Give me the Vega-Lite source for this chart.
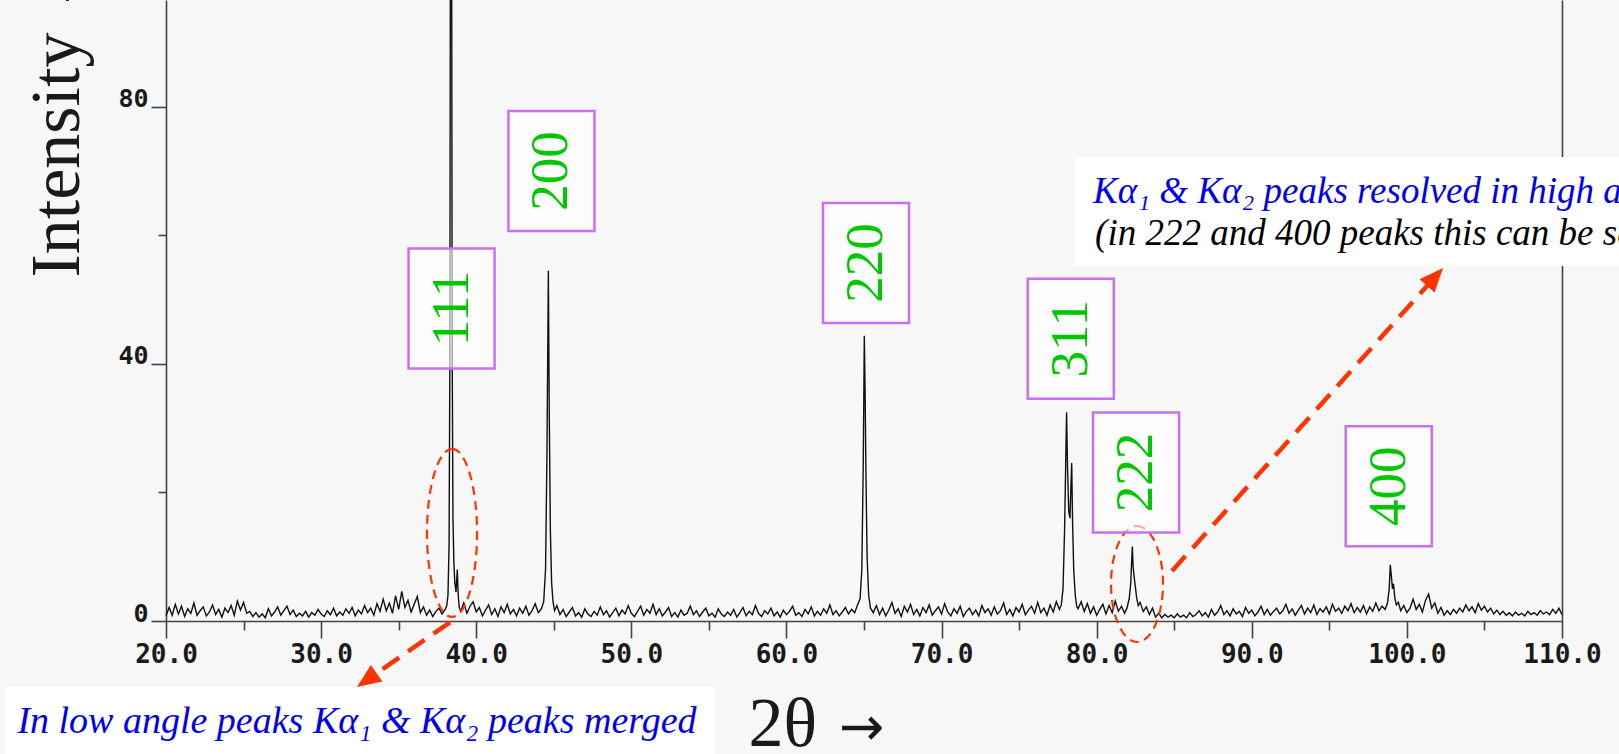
{
"$schema": "https://vega.github.io/schema/vega-lite/v6.json",
"width": 1396, "height": 621,
"autosize": {"type": "none"},
"padding": {"left": 166, "top": 0, "right": 57, "bottom": 133},
"background": "#f7f7f7",
"config": {"view": {"stroke": null}},
"datasets": {
"xrd": [
{"t":20.0,"i":0.8},{"t":20.2,"i":2.1},{"t":20.4,"i":0.9},{"t":20.6,"i":2.6},{"t":20.8,"i":1.1},{"t":21.0,"i":2.3},{"t":21.2,"i":0.7},{"t":21.4,"i":1.9},{"t":21.6,"i":1.2},{"t":21.8,"i":2.8},
{"t":22.0,"i":0.9},{"t":22.2,"i":1.6},{"t":22.4,"i":2.2},{"t":22.6,"i":0.8},{"t":22.8,"i":1.4},{"t":23.0,"i":2.5},{"t":23.2,"i":1.0},{"t":23.4,"i":1.8},{"t":23.6,"i":0.6},{"t":23.8,"i":2.0},
{"t":24.0,"i":1.3},{"t":24.2,"i":2.4},{"t":24.4,"i":0.9},{"t":24.6,"i":3.1},{"t":24.8,"i":1.7},{"t":25.0,"i":2.9},{"t":25.2,"i":1.2},{"t":25.4,"i":1.5},{"t":25.6,"i":0.7},{"t":25.8,"i":1.3},
{"t":26.0,"i":0.6},{"t":26.2,"i":1.1},{"t":26.4,"i":0.5},{"t":26.6,"i":1.9},{"t":26.8,"i":0.8},{"t":27.0,"i":1.4},{"t":27.2,"i":2.2},{"t":27.4,"i":0.9},{"t":27.6,"i":1.6},{"t":27.8,"i":2.3},
{"t":28.0,"i":1.0},{"t":28.2,"i":1.7},{"t":28.4,"i":0.7},{"t":28.6,"i":1.2},{"t":28.8,"i":0.8},{"t":29.0,"i":1.5},{"t":29.2,"i":0.6},{"t":29.4,"i":1.3},{"t":29.6,"i":0.9},{"t":29.8,"i":1.8},
{"t":30.0,"i":1.1},{"t":30.2,"i":0.7},{"t":30.4,"i":1.6},{"t":30.6,"i":1.0},{"t":30.8,"i":2.0},{"t":31.0,"i":0.8},{"t":31.2,"i":1.4},{"t":31.4,"i":0.9},{"t":31.6,"i":1.9},{"t":31.8,"i":1.2},
{"t":32.0,"i":2.1},{"t":32.2,"i":0.8},{"t":32.4,"i":1.7},{"t":32.6,"i":1.1},{"t":32.8,"i":2.4},{"t":33.0,"i":1.3},{"t":33.2,"i":2.0},{"t":33.4,"i":0.9},{"t":33.6,"i":2.7},{"t":33.8,"i":1.5},
{"t":34.0,"i":3.4},{"t":34.2,"i":1.6},{"t":34.4,"i":2.8},{"t":34.6,"i":1.2},{"t":34.8,"i":3.9},{"t":35.0,"i":1.8},{"t":35.2,"i":4.6},{"t":35.4,"i":2.1},{"t":35.6,"i":3.2},{"t":35.8,"i":1.4},
{"t":36.0,"i":2.6},{"t":36.2,"i":3.8},{"t":36.4,"i":1.3},{"t":36.6,"i":2.2},{"t":36.8,"i":0.9},{"t":37.0,"i":1.7},{"t":37.2,"i":0.7},{"t":37.4,"i":1.5},{"t":37.6,"i":2.0},{"t":37.8,"i":1.1},
{"t":38.0,"i":1.8},{"t":38.1,"i":2.4},{"t":38.18,"i":4},{"t":38.25,"i":12},{"t":38.3,"i":40},{"t":38.35,"i":135},{"t":38.4,"i":135},{"t":38.45,"i":42},{"t":38.5,"i":16},{"t":38.56,"i":9},{"t":38.62,"i":6},{"t":38.7,"i":4.5},{"t":38.78,"i":8},{"t":38.84,"i":4},{"t":38.9,"i":2.2},
{"t":39.0,"i":1.5},{"t":39.2,"i":2.8},{"t":39.4,"i":1.2},{"t":39.6,"i":2.3},{"t":39.8,"i":3.0},{"t":40.0,"i":1.4},{"t":40.2,"i":2.1},{"t":40.4,"i":0.8},{"t":40.6,"i":1.7},{"t":40.8,"i":2.5},
{"t":41.0,"i":1.0},{"t":41.2,"i":1.9},{"t":41.4,"i":0.7},{"t":41.6,"i":2.2},{"t":41.8,"i":1.3},{"t":42.0,"i":2.6},{"t":42.2,"i":1.1},{"t":42.4,"i":1.8},{"t":42.6,"i":0.8},{"t":42.8,"i":2.0},
{"t":43.0,"i":1.2},{"t":43.2,"i":2.3},{"t":43.4,"i":0.9},{"t":43.6,"i":1.6},{"t":43.8,"i":2.7},{"t":44.0,"i":1.3},{"t":44.2,"i":1.9},
{"t":44.35,"i":3},{"t":44.47,"i":8},{"t":44.56,"i":26},{"t":44.65,"i":54.5},{"t":44.71,"i":32},{"t":44.78,"i":14},{"t":44.86,"i":6},{"t":44.95,"i":3},{"t":45.05,"i":1.6},
{"t":45.2,"i":2.4},{"t":45.4,"i":1.0},{"t":45.6,"i":1.8},{"t":45.8,"i":0.7},{"t":46.0,"i":1.4},{"t":46.2,"i":2.1},{"t":46.4,"i":0.8},{"t":46.6,"i":1.3},{"t":46.8,"i":0.6},{"t":47.0,"i":1.9},
{"t":47.2,"i":1.1},{"t":47.4,"i":0.7},{"t":47.6,"i":1.5},{"t":47.8,"i":0.9},{"t":48.0,"i":2.2},{"t":48.2,"i":1.0},{"t":48.4,"i":1.6},{"t":48.6,"i":0.6},{"t":48.8,"i":1.3},{"t":49.0,"i":2.0},
{"t":49.2,"i":0.8},{"t":49.4,"i":1.7},{"t":49.6,"i":1.1},{"t":49.8,"i":2.4},{"t":50.0,"i":1.2},{"t":50.2,"i":0.7},{"t":50.4,"i":1.5},{"t":50.6,"i":2.3},{"t":50.8,"i":0.9},{"t":51.0,"i":1.8},
{"t":51.2,"i":1.2},{"t":51.4,"i":2.6},{"t":51.6,"i":1.0},{"t":51.8,"i":1.9},{"t":52.0,"i":0.8},{"t":52.2,"i":1.4},{"t":52.4,"i":2.1},{"t":52.6,"i":0.7},{"t":52.8,"i":1.3},{"t":53.0,"i":0.6},
{"t":53.2,"i":1.7},{"t":53.4,"i":0.9},{"t":53.6,"i":1.2},{"t":53.8,"i":2.3},{"t":54.0,"i":1.0},{"t":54.2,"i":1.6},{"t":54.4,"i":0.7},{"t":54.6,"i":1.4},{"t":54.8,"i":2.0},{"t":55.0,"i":0.8},
{"t":55.2,"i":1.2},{"t":55.4,"i":0.6},{"t":55.6,"i":1.9},{"t":55.8,"i":1.1},{"t":56.0,"i":0.7},{"t":56.2,"i":1.4},{"t":56.4,"i":0.9},{"t":56.6,"i":1.8},{"t":56.8,"i":0.6},{"t":57.0,"i":1.3},
{"t":57.2,"i":2.1},{"t":57.4,"i":0.8},{"t":57.6,"i":1.5},{"t":57.8,"i":1.0},{"t":58.0,"i":2.4},{"t":58.2,"i":1.2},{"t":58.4,"i":0.7},{"t":58.6,"i":1.6},{"t":58.8,"i":1.1},{"t":59.0,"i":2.0},
{"t":59.2,"i":0.8},{"t":59.4,"i":1.4},{"t":59.6,"i":0.6},{"t":59.8,"i":1.7},{"t":60.0,"i":1.0},{"t":60.2,"i":1.5},{"t":60.4,"i":2.3},{"t":60.6,"i":0.9},{"t":60.8,"i":1.3},{"t":61.0,"i":0.7},
{"t":61.2,"i":1.8},{"t":61.4,"i":1.1},{"t":61.6,"i":2.2},{"t":61.8,"i":0.8},{"t":62.0,"i":1.5},{"t":62.2,"i":0.9},{"t":62.4,"i":1.9},{"t":62.6,"i":1.2},{"t":62.8,"i":2.5},{"t":63.0,"i":1.0},
{"t":63.2,"i":1.6},{"t":63.4,"i":0.8},{"t":63.6,"i":1.4},{"t":63.8,"i":2.1},{"t":64.0,"i":1.1},{"t":64.2,"i":1.8},{"t":64.4,"i":1.3},{"t":64.6,"i":2.6},
{"t":64.75,"i":3.5},{"t":64.86,"i":8},{"t":64.95,"i":24},{"t":65.02,"i":44.4},{"t":65.07,"i":36},{"t":65.13,"i":22},{"t":65.2,"i":10},{"t":65.3,"i":4},{"t":65.42,"i":2.0},
{"t":65.6,"i":1.3},{"t":65.8,"i":2.4},{"t":66.0,"i":1.0},{"t":66.2,"i":2.0},{"t":66.4,"i":0.8},{"t":66.6,"i":1.7},{"t":66.8,"i":2.9},{"t":67.0,"i":1.2},{"t":67.2,"i":1.9},{"t":67.4,"i":0.7},
{"t":67.6,"i":2.3},{"t":67.8,"i":1.4},{"t":68.0,"i":2.6},{"t":68.2,"i":1.0},{"t":68.4,"i":1.8},{"t":68.6,"i":0.8},{"t":68.8,"i":2.1},{"t":69.0,"i":1.3},{"t":69.2,"i":2.5},{"t":69.4,"i":0.9},
{"t":69.6,"i":1.6},{"t":69.8,"i":2.2},{"t":70.0,"i":1.1},{"t":70.2,"i":2.7},{"t":70.4,"i":1.4},{"t":70.6,"i":0.8},{"t":70.8,"i":1.9},{"t":71.0,"i":1.2},{"t":71.2,"i":2.3},{"t":71.4,"i":0.7},
{"t":71.6,"i":1.5},{"t":71.8,"i":2.0},{"t":72.0,"i":1.0},{"t":72.2,"i":1.7},{"t":72.4,"i":0.8},{"t":72.6,"i":2.4},{"t":72.8,"i":1.3},{"t":73.0,"i":1.9},{"t":73.2,"i":0.9},{"t":73.4,"i":2.2},
{"t":73.6,"i":1.1},{"t":73.8,"i":1.6},{"t":74.0,"i":2.8},{"t":74.2,"i":1.0},{"t":74.4,"i":1.8},{"t":74.6,"i":0.8},{"t":74.8,"i":2.1},{"t":75.0,"i":1.4},{"t":75.2,"i":2.6},{"t":75.4,"i":1.0},
{"t":75.6,"i":1.7},{"t":75.8,"i":2.3},{"t":76.0,"i":1.2},{"t":76.2,"i":2.9},{"t":76.4,"i":1.3},{"t":76.6,"i":2.0},{"t":76.8,"i":0.9},{"t":77.0,"i":2.5},{"t":77.2,"i":1.4},{"t":77.4,"i":3.0},{"t":77.6,"i":1.8},
{"t":77.72,"i":2.5},{"t":77.83,"i":5},{"t":77.93,"i":14},{"t":78.0,"i":24},{"t":78.06,"i":32.5},{"t":78.12,"i":24},{"t":78.2,"i":17},{"t":78.28,"i":16},{"t":78.34,"i":21},{"t":78.39,"i":24.6},{"t":78.45,"i":15},{"t":78.52,"i":8},{"t":78.62,"i":4},{"t":78.72,"i":2.2},
{"t":78.8,"i":1.9},{"t":79.0,"i":3.0},{"t":79.2,"i":1.5},{"t":79.4,"i":2.7},{"t":79.6,"i":1.2},{"t":79.8,"i":2.2},{"t":80.0,"i":0.9},{"t":80.2,"i":1.8},{"t":80.4,"i":2.6},{"t":80.6,"i":1.1},
{"t":80.8,"i":2.4},{"t":81.0,"i":1.3},{"t":81.2,"i":3.1},{"t":81.4,"i":1.5},{"t":81.6,"i":2.3},{"t":81.8,"i":1.2},
{"t":81.95,"i":2.0},{"t":82.1,"i":3.5},{"t":82.2,"i":6},{"t":82.26,"i":9.5},{"t":82.3,"i":11.6},{"t":82.35,"i":8.5},{"t":82.42,"i":6.8},{"t":82.5,"i":5.2},{"t":82.58,"i":3.6},{"t":82.68,"i":2.4},{"t":82.8,"i":2.9},
{"t":83.0,"i":1.5},{"t":83.2,"i":2.2},{"t":83.4,"i":1.0},{"t":83.6,"i":2.0},{"t":83.8,"i":0.6},{"t":84.0,"i":1.2},{"t":84.2,"i":0.5},{"t":84.4,"i":1.0},{"t":84.6,"i":0.6},{"t":84.8,"i":0.9},
{"t":85.0,"i":0.5},{"t":85.2,"i":1.1},{"t":85.4,"i":0.6},{"t":85.6,"i":0.9},{"t":85.8,"i":0.5},{"t":86.0,"i":1.3},{"t":86.2,"i":0.7},{"t":86.4,"i":1.0},{"t":86.6,"i":1.6},{"t":86.8,"i":0.8},
{"t":87.0,"i":1.3},{"t":87.2,"i":0.6},{"t":87.4,"i":1.8},{"t":87.6,"i":0.9},{"t":87.8,"i":1.4},{"t":88.0,"i":2.4},{"t":88.2,"i":1.0},{"t":88.4,"i":1.6},{"t":88.6,"i":0.8},{"t":88.8,"i":1.9},
{"t":89.0,"i":1.1},{"t":89.2,"i":1.5},{"t":89.4,"i":0.7},{"t":89.6,"i":2.1},{"t":89.8,"i":1.2},{"t":90.0,"i":1.7},{"t":90.2,"i":0.8},{"t":90.4,"i":1.4},{"t":90.6,"i":2.3},{"t":90.8,"i":1.0},
{"t":91.0,"i":1.8},{"t":91.2,"i":0.9},{"t":91.4,"i":1.5},{"t":91.6,"i":2.0},{"t":91.8,"i":1.1},{"t":92.0,"i":1.6},{"t":92.2,"i":2.6},{"t":92.4,"i":1.2},{"t":92.6,"i":1.9},{"t":92.8,"i":0.9},
{"t":93.0,"i":1.7},{"t":93.2,"i":2.4},{"t":93.4,"i":1.1},{"t":93.6,"i":2.0},{"t":93.8,"i":1.3},{"t":94.0,"i":2.5},{"t":94.2,"i":1.0},{"t":94.4,"i":1.9},{"t":94.6,"i":1.4},{"t":94.8,"i":2.2},
{"t":95.0,"i":1.1},{"t":95.2,"i":2.6},{"t":95.4,"i":1.5},{"t":95.6,"i":2.0},{"t":95.8,"i":1.2},{"t":96.0,"i":2.3},{"t":96.2,"i":1.6},{"t":96.4,"i":2.7},{"t":96.6,"i":1.3},{"t":96.8,"i":2.1},
{"t":97.0,"i":1.4},{"t":97.2,"i":2.4},{"t":97.4,"i":1.1},{"t":97.6,"i":2.2},{"t":97.8,"i":1.5},{"t":98.0,"i":2.8},{"t":98.2,"i":1.6},{"t":98.4,"i":2.3},{"t":98.6,"i":1.8},
{"t":98.75,"i":2.8},{"t":98.86,"i":5},{"t":98.93,"i":8.75},{"t":99.0,"i":7},{"t":99.07,"i":5},{"t":99.14,"i":5.8},{"t":99.22,"i":3.6},{"t":99.32,"i":2.5},{"t":99.45,"i":2.9},
{"t":99.6,"i":1.6},{"t":99.8,"i":2.4},{"t":100.0,"i":1.3},{"t":100.2,"i":2.0},{"t":100.4,"i":3.4},{"t":100.6,"i":1.8},{"t":100.8,"i":2.6},{"t":101.0,"i":1.4},{"t":101.2,"i":3.2},{"t":101.4,"i":4.2},
{"t":101.6,"i":2.0},{"t":101.8,"i":2.8},{"t":102.0,"i":1.2},{"t":102.2,"i":2.1},{"t":102.4,"i":0.9},{"t":102.6,"i":1.6},{"t":102.8,"i":1.0},{"t":103.0,"i":1.8},{"t":103.2,"i":1.2},{"t":103.4,"i":2.0},
{"t":103.6,"i":1.4},{"t":103.8,"i":2.5},{"t":104.0,"i":1.6},{"t":104.2,"i":2.2},{"t":104.4,"i":1.3},{"t":104.6,"i":2.7},{"t":104.8,"i":1.7},{"t":105.0,"i":2.3},{"t":105.2,"i":1.4},{"t":105.4,"i":2.0},
{"t":105.6,"i":1.1},{"t":105.8,"i":1.7},{"t":106.0,"i":1.0},{"t":106.2,"i":1.5},{"t":106.4,"i":0.9},{"t":106.6,"i":1.3},{"t":106.8,"i":0.8},{"t":107.0,"i":1.4},{"t":107.2,"i":0.9},{"t":107.4,"i":1.2},
{"t":107.6,"i":0.8},{"t":107.8,"i":1.5},{"t":108.0,"i":1.0},{"t":108.2,"i":1.3},{"t":108.4,"i":0.9},{"t":108.6,"i":1.6},{"t":108.8,"i":1.1},{"t":109.0,"i":1.4},{"t":109.2,"i":1.0},{"t":109.4,"i":1.8},
{"t":109.6,"i":1.2},{"t":109.8,"i":2.0},{"t":110.0,"i":1.0}
],
"hkl": [
{"hkl":"111","t":38.41,"i":48.64},
{"hkl":"200","t":44.85,"i":70.05},
{"hkl":"220","t":65.13,"i":55.72},
{"hkl":"311","t":78.33,"i":43.94},
{"hkl":"222","t":82.54,"i":23.11},
{"hkl":"400","t":98.83,"i":20.96}
]
},
"layer": [
{
"data": {"name": "xrd"},
"mark": {"type": "line", "color": "#111111", "strokeWidth": 1.4},
"encoding": {
"x": {"field": "t", "type": "quantitative", "scale": {"domain": [20, 110], "nice": false, "zero": false},
 "axis": {"values": [20,30,40,50,60,70,80,90,100,110], "format": ".1f", "orient": "bottom", "grid": false,
  "domain": true, "domainColor": "#444", "domainWidth": 1.6, "ticks": true, "tickSize": 17, "tickColor": "#444", "tickWidth": 1.6,
  "labelFont": "DejaVu Sans Mono", "labelFontWeight": "bold", "labelFontSize": 26, "labelColor": "#1a1a1a", "labelPadding": 24,
  "labelBaseline": "alphabetic", "labelFlush": false, "labelOverlap": false, "labelBound": false,
  "title": "2θ", "titleFont": "Liberation Serif", "titleFontSize": 70, "titleFontWeight": "normal", "titleColor": "#1a1a1a",
  "titleX": 582, "titleY": 124, "titleAlign": "left", "titleBaseline": "alphabetic"}},
"y": {"field": "i", "type": "quantitative", "scale": {"domain": [0, 96.65], "nice": false, "zero": false},
 "axis": {"values": [0, 40, 80], "format": "d", "orient": "left", "grid": false,
  "domain": true, "domainColor": "#444", "domainWidth": 1.6, "ticks": true, "tickSize": 15, "tickColor": "#444", "tickWidth": 1.6,
  "labelFont": "DejaVu Sans Mono", "labelFontWeight": "bold", "labelFontSize": 25, "labelColor": "#1a1a1a", "labelPadding": 3,
  "labelBaseline": "alphabetic", "labelFlush": false, "labelOverlap": false, "labelBound": false,
  "title": "Intensity →", "titleFont": "Liberation Serif", "titleFontSize": 70, "titleFontWeight": "normal", "titleColor": "#1a1a1a",
  "titleAngle": 270, "titleX": -88, "titleY": 277, "titleAlign": "left", "titleBaseline": "alphabetic"}}
}
},
{
"data": {"values": [{"t": 38.44, "i": 13.7}]},
"mark": {"type": "point", "shape": "M0,-1C0.1645,-1,0.298,-0.5523,0.298,0C0.298,0.5523,0.1645,1,0,1C-0.1645,1,-0.298,0.5523,-0.298,0C-0.298,-0.5523,-0.1645,-1,0,-1Z", "size": 28224, "filled": false, "stroke": "#ff3300", "strokeWidth": 2.2, "strokeDash": [9, 6], "opacity": 1},
"encoding": {
"x": {"field": "t", "type": "quantitative", "scale": {"domain": [20, 110], "nice": false, "zero": false}, "axis": null},
"y": {"field": "i", "type": "quantitative", "scale": {"domain": [0, 96.65], "nice": false, "zero": false}, "axis": null}
}
},
{
"data": {"values": [{"t": 82.6, "i": 5.76}]},
"mark": {"type": "point", "shape": "M0,-1C0.2476,-1,0.448,-0.5523,0.448,0C0.448,0.5523,0.2476,1,0,1C-0.2476,1,-0.448,0.5523,-0.448,0C-0.448,-0.5523,-0.2476,-1,0,-1Z", "size": 13456, "filled": false, "stroke": "#ff3300", "strokeWidth": 2.2, "strokeDash": [9, 6], "opacity": 1},
"encoding": {
"x": {"field": "t", "type": "quantitative", "scale": {"domain": [20, 110], "nice": false, "zero": false}, "axis": null},
"y": {"field": "i", "type": "quantitative", "scale": {"domain": [0, 96.65], "nice": false, "zero": false}, "axis": null}
}
},
{
"data": {"values": [{"t": 32.51, "i": -15.49}]},
"mark": {"type": "point", "shape": "M-1,-0.0944H1V0.0944H-1Z", "size": 504100, "filled": true, "fill": "#ffffff", "opacity": 1, "strokeWidth": 0},
"encoding": {
"x": {"field": "t", "type": "quantitative", "scale": {"domain": [20, 110], "nice": false, "zero": false}, "axis": null},
"y": {"field": "i", "type": "quantitative", "scale": {"domain": [0, 96.65], "nice": false, "zero": false}, "axis": null}
}
},
{
"data": {"values": [{"t": 96.11, "i": 63.74}]},
"mark": {"type": "point", "shape": "M-1,-0.2H1V0.2H-1Z", "size": 297025, "filled": true, "fill": "#ffffff", "opacity": 1, "strokeWidth": 0},
"encoding": {
"x": {"field": "t", "type": "quantitative", "scale": {"domain": [20, 110], "nice": false, "zero": false}, "axis": null},
"y": {"field": "i", "type": "quantitative", "scale": {"domain": [0, 96.65], "nice": false, "zero": false}, "axis": null}
}
},
{
"data": {"values": [{"a": 1, "o": 0, "t": 38.31, "i": -0.2}, {"a": 1, "o": 1, "t": 32.94, "i": -9.2}, {"a": 2, "o": 0, "t": 84.86, "i": 7.78}, {"a": 2, "o": 1, "t": 101.82, "i": 53.56}]},
"mark": {"type": "line", "color": "#ff3300", "strokeWidth": 4.5, "strokeDash": [20, 11]},
"encoding": {
"x": {"field": "t", "type": "quantitative", "scale": {"domain": [20, 110], "nice": false, "zero": false}, "axis": null},
"y": {"field": "i", "type": "quantitative", "scale": {"domain": [0, 96.65], "nice": false, "zero": false}, "axis": null},
"detail": {"field": "a", "type": "nominal"},
"order": {"field": "o", "type": "quantitative"}
}
},
{
"data": {"values": [{"t": 32.31, "i": -10.27}]},
"mark": {"type": "point", "shape": "M0,0L-0.42,1L0.42,1Z", "size": 2304, "filled": true, "color": "#ff3300", "opacity": 1, "angle": 235},
"encoding": {
"x": {"field": "t", "type": "quantitative", "scale": {"domain": [20, 110], "nice": false, "zero": false}, "axis": null},
"y": {"field": "i", "type": "quantitative", "scale": {"domain": [0, 96.65], "nice": false, "zero": false}, "axis": null}
}
},
{
"data": {"values": [{"t": 102.33, "i": 54.94}]},
"mark": {"type": "point", "shape": "M0,0L-0.42,1L0.42,1Z", "size": 2304, "filled": true, "color": "#ff3300", "opacity": 1, "angle": 41.8},
"encoding": {
"x": {"field": "t", "type": "quantitative", "scale": {"domain": [20, 110], "nice": false, "zero": false}, "axis": null},
"y": {"field": "i", "type": "quantitative", "scale": {"domain": [0, 96.65], "nice": false, "zero": false}, "axis": null}
}
},
{
"data": {"name": "hkl"},
"mark": {"type": "point", "shape": "M-0.717,-1H0.717V1H-0.717Z", "size": 14400, "filled": true, "fill": "#ffffff", "fillOpacity": 0.6, "stroke": "#c86ff5", "strokeWidth": 2.5, "opacity": 1},
"encoding": {
"x": {"field": "t", "type": "quantitative", "scale": {"domain": [20, 110], "nice": false, "zero": false},
 "axis": {"values": [25,35,45,55,65,75,85,95,105], "orient": "bottom", "grid": false, "domain": false, "ticks": true, "tickSize": 9, "tickColor": "#444", "tickWidth": 1.6, "labels": false, "title": null}},
"y": {"field": "i", "type": "quantitative", "scale": {"domain": [0, 96.65], "nice": false, "zero": false},
 "axis": {"values": [20, 60], "orient": "left", "grid": false, "domain": false, "ticks": true, "tickSize": 8, "tickColor": "#444", "tickWidth": 1.6, "labels": false, "title": null}}
}
},
{
"data": {"name": "hkl"},
"mark": {"type": "text", "font": "Liberation Serif", "fontSize": 53, "color": "#00c800", "angle": 270, "align": "center", "baseline": "middle"},
"encoding": {
"x": {"field": "t", "type": "quantitative", "scale": {"domain": [20, 110], "nice": false, "zero": false}, "axis": null},
"y": {"field": "i", "type": "quantitative", "scale": {"domain": [0, 96.65], "nice": false, "zero": false},
 "axis": {"orient": "right", "grid": false, "domain": true, "domainColor": "#444", "domainWidth": 1.6, "ticks": false, "labels": false, "title": null}},
"text": {"field": "hkl", "type": "nominal"}
}
},
{
"data": {"values": [{"note": "→", "t": 63.39, "i": -19.3}]},
"mark": {"type": "text", "font": "DejaVu Sans", "fontSize": 54, "color": "#1a1a1a", "align": "left", "baseline": "alphabetic"},
"encoding": {
"x": {"field": "t", "type": "quantitative", "scale": {"domain": [20, 110], "nice": false, "zero": false}, "axis": null},
"y": {"field": "i", "type": "quantitative", "scale": {"domain": [0, 96.65], "nice": false, "zero": false}, "axis": null},
"text": {"field": "note", "type": "nominal"}
}
},
{
"data": {"values": [{"note": "In low angle peaks Kα₁ & Kα₂ peaks merged", "t": 32.31, "i": -17.43}]},
"mark": {"type": "text", "font": "Liberation Serif", "fontStyle": "italic", "fontSize": 38, "color": "#0000ee", "align": "center", "baseline": "alphabetic"},
"encoding": {
"x": {"field": "t", "type": "quantitative", "scale": {"domain": [20, 110], "nice": false, "zero": false}, "axis": null},
"y": {"field": "i", "type": "quantitative", "scale": {"domain": [0, 96.65], "nice": false, "zero": false}, "axis": null},
"text": {"field": "note", "type": "nominal"}
}
},
{
"data": {"values": [{"note": "Kα₁ & Kα₂ peaks resolved in high angle peaks", "t": 79.77, "i": 65.06}]},
"mark": {"type": "text", "font": "Liberation Serif", "fontStyle": "italic", "fontSize": 37, "color": "#0000ee", "align": "left", "baseline": "alphabetic"},
"encoding": {
"x": {"field": "t", "type": "quantitative", "scale": {"domain": [20, 110], "nice": false, "zero": false}, "axis": null},
"y": {"field": "i", "type": "quantitative", "scale": {"domain": [0, 96.65], "nice": false, "zero": false}, "axis": null},
"text": {"field": "note", "type": "nominal"}
}
},
{
"data": {"values": [{"note": "(in 222 and 400 peaks this can be seen)", "t": 79.9, "i": 58.52}]},
"mark": {"type": "text", "font": "Liberation Serif", "fontStyle": "italic", "fontSize": 37, "color": "#000000", "align": "left", "baseline": "alphabetic"},
"encoding": {
"x": {"field": "t", "type": "quantitative", "scale": {"domain": [20, 110], "nice": false, "zero": false}, "axis": null},
"y": {"field": "i", "type": "quantitative", "scale": {"domain": [0, 96.65], "nice": false, "zero": false}, "axis": null},
"text": {"field": "note", "type": "nominal"}
}
}
],
"resolve": {"axis": {"x": "independent", "y": "independent"}}
}
